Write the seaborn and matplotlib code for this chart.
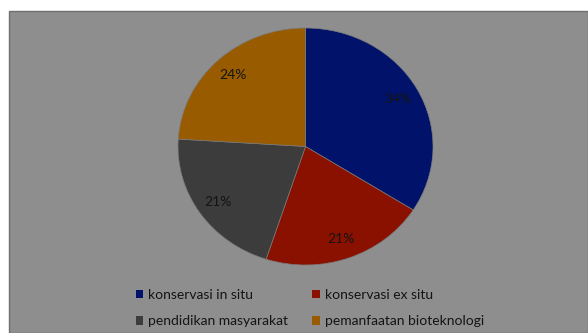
import matplotlib
matplotlib.use("Agg")
import matplotlib.pyplot as plt
import seaborn as sns
from matplotlib.patches import Rectangle

categories = ["konservasi in situ", "konservasi ex situ",
              "pendidikan masyarakat", "pemanfaatan bioteknologi"]
values = [34, 21, 21, 24]
colors = ["#00126a", "#8a1100", "#3c3c3c", "#985b00"]

sns.set_theme(style="white")
plt.rcParams['font.family'] = ['Lato', 'DejaVu Sans']

W, H = 588, 333
fig = plt.figure(figsize=(W / 100, H / 100), dpi=100)
fig.patch.set_facecolor("white")

# gray panel
fig.patches.append(Rectangle((9 / W, 0), 1 - 9 / W, 1 - 11 / H, transform=fig.transFigure,
                             facecolor="#8e8e8e", edgecolor="#6f6f6f", linewidth=1.0, zorder=-10))

ax = fig.add_axes([178 / W, (H - 265) / H, 255 / W, 237 / H])
ax.set_facecolor("none")
palette = sns.color_palette(colors)
wedges, texts, autotexts = ax.pie(
    values, colors=palette, startangle=90, counterclock=False,
    autopct=lambda p: f"{p:.0f}%", pctdistance=0.83,
    wedgeprops=dict(linewidth=0.5, edgecolor="#7a7a7a"),
    textprops=dict(fontsize=10, color="#141414"))
ax.set_aspect("auto")
ax.set_xlim(-1.0, 1.0)
ax.set_ylim(-1.0, 1.0)
ax.axis("off")

handles = [Rectangle((0, 0), 1, 1, facecolor=c, edgecolor="none") for c in colors]
order = [0, 2, 1, 3]  # row-major arrangement in a two-column legend
leg = fig.legend([handles[i] for i in order], [categories[i] for i in order],
                 ncol=2, loc="center",
                 bbox_to_anchor=(0.527, (H - 308) / H), frameon=False,
                 fontsize=10, handlelength=0.55, handleheight=0.55,
                 handletextpad=0.35, columnspacing=1.75, labelspacing=1.05)
for t in leg.get_texts():
    t.set_color("#141414")

fig.savefig("out.png", dpi=100, facecolor=fig.get_facecolor())
